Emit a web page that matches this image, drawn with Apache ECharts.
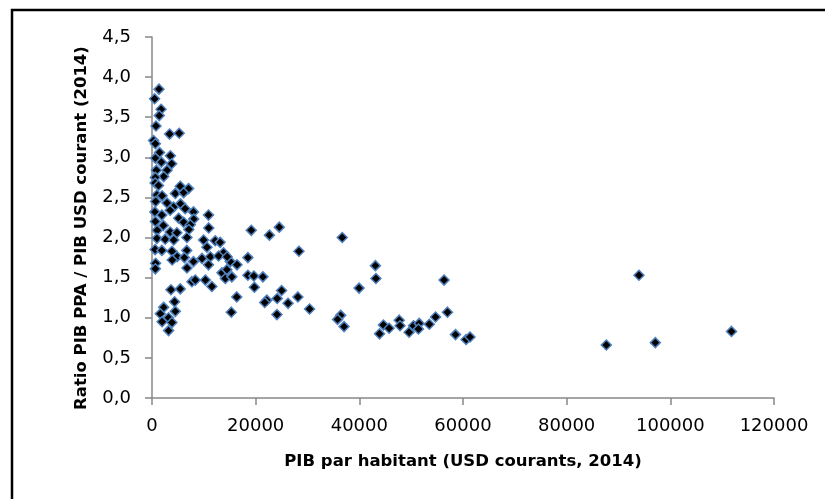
<!DOCTYPE html>
<html>
<head>
<meta charset="utf-8">
<script src="https://cdn.jsdelivr.net/npm/echarts@6/dist/echarts.min.js"></script>
<style>
html,body{margin:0;padding:0;background:#fff;}
#chart{width:825px;height:499px;}
</style>
</head>
<body>
<div id="chart"></div>
<script>
// PIB par habitant (USD courants, 2014)
const gdpPerCapita = [
  1350, 500, 1750, 1400, 770, 3400, 5250, 300, 650, 1450,
  3550, 650, 1800, 3800, 850, 2900, 2250, 650, 600, 1250,
  5450, 7050, 4500, 6100, 950, 1950, 700, 2900, 5500, 4150,
  6400, 8000, 10900, 550, 1900, 3500, 5150, 8050, 650, 6100,
  7400, 10950, 2200, 3500, 1000, 4800, 7100, 950, 2550, 4200,
  6750, 9950, 12200, 13150, 10600, 600, 1900, 3850, 6700, 13800,
  4850, 700, 650, 3900, 8000, 9650, 11250, 10900, 12850, 15100,
  16400, 6750, 13500, 14450, 14150, 15400, 7700, 8350, 10300, 11550,
  16350, 3650, 5450, 4350, 2250, 1600, 4500, 3200, 1950, 3850,
  3200, 15300, 14500, 6250, 19150, 22650, 24550, 36700, 28350, 18500,
  18500, 19650, 21400, 19750, 25000, 24150, 22150, 21750, 28150, 26250,
  30400, 24100, 36400, 35800, 37050, 43100, 43200, 39950, 44650, 43900,
  45750, 47700, 47850, 49600, 50450, 51550, 51400, 53500, 54700, 56350,
  57000, 58550, 60600, 61350, 87650, 93950, 97100, 111800
];
// Ratio PIB PPA / PIB USD courant (2014)
const pppRatio = [
  3.85, 3.73, 3.60, 3.52, 3.39, 3.29, 3.30, 3.21, 3.17, 3.06,
  3.02, 2.99, 2.94, 2.92, 2.84, 2.84, 2.76, 2.75, 2.68, 2.65,
  2.64, 2.61, 2.55, 2.56, 2.53, 2.52, 2.45, 2.43, 2.42, 2.38,
  2.36, 2.32, 2.28, 2.32, 2.28, 2.34, 2.24, 2.23, 2.20, 2.19,
  2.16, 2.12, 2.15, 2.07, 2.09, 2.06, 2.10, 1.99, 1.98, 1.97,
  2.00, 1.97, 1.96, 1.94, 1.88, 1.85, 1.84, 1.83, 1.84, 1.81,
  1.76, 1.68, 1.61, 1.72, 1.70, 1.74, 1.76, 1.66, 1.77, 1.70,
  1.66, 1.62, 1.56, 1.60, 1.49, 1.51, 1.45, 1.47, 1.47, 1.39,
  1.26, 1.35, 1.36, 1.20, 1.13, 1.05, 1.08, 1.00, 0.95, 0.94,
  0.84, 1.07, 1.76, 1.75, 2.09, 2.03, 2.13, 2.00, 1.83, 1.75,
  1.53, 1.52, 1.51, 1.38, 1.34, 1.24, 1.22, 1.19, 1.26, 1.18,
  1.11, 1.04, 1.03, 0.98, 0.89, 1.65, 1.49, 1.37, 0.91, 0.80,
  0.87, 0.97, 0.90, 0.82, 0.90, 0.93, 0.86, 0.92, 1.01, 1.47,
  1.07, 0.79, 0.73, 0.76, 0.66, 1.53, 0.69, 0.83
];
const xTitle = 'PIB par habitant (USD courants, 2014)';
const yTitle = 'Ratio PIB PPA / PIB USD courant (2014)';
const xRange = [0, 120000, 20000];
const yRange = [0, 4.5, 0.5];

const points = gdpPerCapita.map((x, i) => [x, pppRatio[i]]);

const chart = echarts.init(document.getElementById('chart'), null, {renderer: 'canvas'});
const axisLine = {show: true, lineStyle: {color: '#888888', width: 1.5}};
const axisTick = {show: true, inside: false, length: 7, lineStyle: {color: '#888888', width: 1.5}};
chart.setOption({
  animation: false,
  backgroundColor: '#ffffff',
  grid: {left: 152, right: 51, top: 37, bottom: 101, containLabel: false},
  xAxis: {
    type: 'value', min: xRange[0], max: xRange[1], interval: xRange[2],
    axisLine: axisLine, axisTick: axisTick, splitLine: {show: false},
    axisLabel: {fontFamily: 'DejaVu Sans', fontSize: 18, color: '#000', margin: 19,
      formatter: v => String(Math.round(v))}
  },
  yAxis: {
    type: 'value', min: yRange[0], max: yRange[1], interval: yRange[2],
    axisLine: axisLine, axisTick: axisTick, splitLine: {show: false},
    axisLabel: {fontFamily: 'DejaVu Sans', fontSize: 18, color: '#000', margin: 21,
      formatter: v => v.toFixed(1).replace('.', ',')}
  },
  series: [{
    type: 'scatter',
    data: points,
    symbol: 'diamond',
    symbolSize: 10,
    itemStyle: {color: '#000000', borderColor: '#4F81BD', borderWidth: 1.5, opacity: 1}
  }],
  graphic: [
    {type: 'rect', silent: true, shape: {x: 12, y: 10, width: 1000, height: 1000},
     style: {fill: 'none', stroke: '#000', lineWidth: 2.5}},
    {type: 'text', x: 463, y: 462,
     style: {text: xTitle, font: 'bold 16.5px "DejaVu Sans"', fill: '#000', align: 'center', verticalAlign: 'middle'}},
    {type: 'text', x: 82, y: 228, rotation: Math.PI / 2,
     style: {text: yTitle, font: 'bold 16.5px "DejaVu Sans"', fill: '#000', align: 'center', verticalAlign: 'middle'}}
  ]
});
</script>
</body>
</html>
